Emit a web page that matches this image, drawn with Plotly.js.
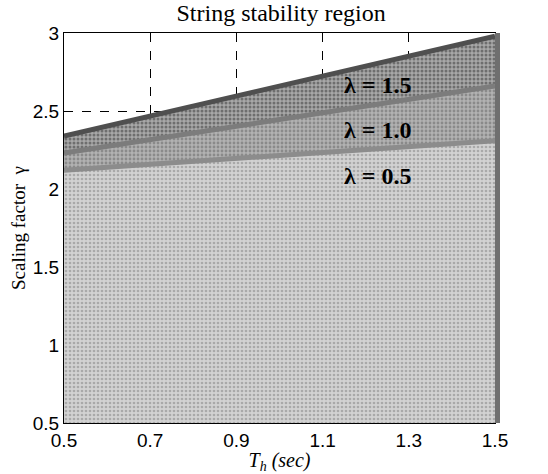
<!DOCTYPE html>
<html>
<head>
<meta charset="utf-8">
<script src="https://cdn.plot.ly/plotly-3.0.1.min.js"></script>
<style>html,body{margin:0;padding:0;background:#fff;}#chart{width:548px;height:474px;}</style>
</head>
<body>
<div id="chart"></div>
<script>
// Data
var Th = [0.5, 1.5];
var gammaLambda05 = [2.12, 2.31];
var gammaLambda10 = [2.23, 2.66];
var gammaLambda15 = [2.34, 2.98];
var labelText = ['\u03bb = 0.5', '\u03bb = 1.0', '\u03bb = 1.5'];
var labelX = [1.228, 1.228, 1.228];
var labelY = [2.07, 2.365, 2.654];
var xTicks = [0.5, 0.7, 0.9, 1.1, 1.3, 1.5];
var yTicks = [0.5, 1, 1.5, 2, 2.5, 3];

var traces = [
  {x: Th, y: gammaLambda05, type: 'scatter', mode: 'lines', fill: 'tozeroy',
   fillcolor: '#cdcdcd', fillpattern: {shape: '.', bgcolor: '#d2d2d2', fgcolor: '#a9a9a9', size: 4, solidity: 0.35},
   line: {color: '#8c8c8c', width: 5}, showlegend: false, hoverinfo: 'skip'},
  {x: Th, y: gammaLambda10, type: 'scatter', mode: 'lines', fill: 'tonexty',
   fillcolor: '#aaaaaa', fillpattern: {shape: '.', bgcolor: '#b2b2b2', fgcolor: '#8a8a8a', size: 4, solidity: 0.4},
   line: {color: '#7c7c7c', width: 5}, showlegend: false, hoverinfo: 'skip'},
  {x: Th, y: gammaLambda15, type: 'scatter', mode: 'lines', fill: 'tonexty',
   fillcolor: '#9a9a9a', fillpattern: {shape: '.', bgcolor: '#a8a8a8', fgcolor: '#6e6e6e', size: 4, solidity: 0.45},
   line: {color: '#4f4f4f', width: 5}, showlegend: false, hoverinfo: 'skip'},
  {x: labelX, y: labelY, text: labelText, type: 'scatter', mode: 'text',
   textfont: {family: 'Liberation Serif, Times New Roman, serif', size: 24, color: '#000', weight: 'bold'},
   showlegend: false, hoverinfo: 'skip'},
  {x: [0.5], y: [0.5], yaxis: 'y2', type: 'scatter', mode: 'markers', marker: {opacity: 0}, showlegend: false, hoverinfo: 'skip'}
];

var layout = {
  width: 548, height: 474,
  margin: {l: 64, r: 53, t: 33, b: 51},
  paper_bgcolor: '#fff', plot_bgcolor: '#fff',
  title: {text: 'String stability region', x: 0.513, xanchor: 'center', y: 0.992, yanchor: 'top',
          font: {family: 'Liberation Serif, Times New Roman, serif', size: 24, color: '#000'}},
  xaxis: {range: [0.5, 1.5], tickvals: xTicks, ticktext: xTicks.map(function(v){return v.toFixed(1);}),
          showgrid: true, gridcolor: '#000', griddash: 'dash', gridwidth: 1,
          showline: true, linecolor: '#000', linewidth: 1, mirror: true, ticks: '', zeroline: false,
          tickfont: {family: 'Liberation Sans, Arial, sans-serif', size: 19, color: '#000'},
          title: {text: '<i>T</i><sub><i>h</i></sub><i> (sec)</i>', standoff: 0,
                  font: {family: 'Liberation Serif, Times New Roman, serif', size: 20, color: '#000'}}},
  yaxis: {range: [0.5, 3], tickvals: yTicks, ticktext: ['0.5', '1', '1.5', '2', '2.5', '3'],
          showgrid: true, gridcolor: '#000', griddash: 'dash', gridwidth: 1,
          showline: true, linecolor: '#000', linewidth: 1, mirror: true, ticks: '', zeroline: false,
          tickfont: {family: 'Liberation Sans, Arial, sans-serif', size: 19, color: '#000'},
          title: {text: 'Scaling factor  \u03b3', standoff: 2,
                  font: {family: 'Liberation Serif, Times New Roman, serif', size: 19, color: '#000'}}},
  yaxis2: {range: [0.5, 3], overlaying: 'y', side: 'right', showline: true, linecolor: '#6f6f6f', linewidth: 5,
           showgrid: false, showticklabels: false, ticks: '', zeroline: false}
};

Plotly.newPlot('chart', traces, layout, {displayModeBar: false, staticPlot: true});
</script>
</body>
</html>
